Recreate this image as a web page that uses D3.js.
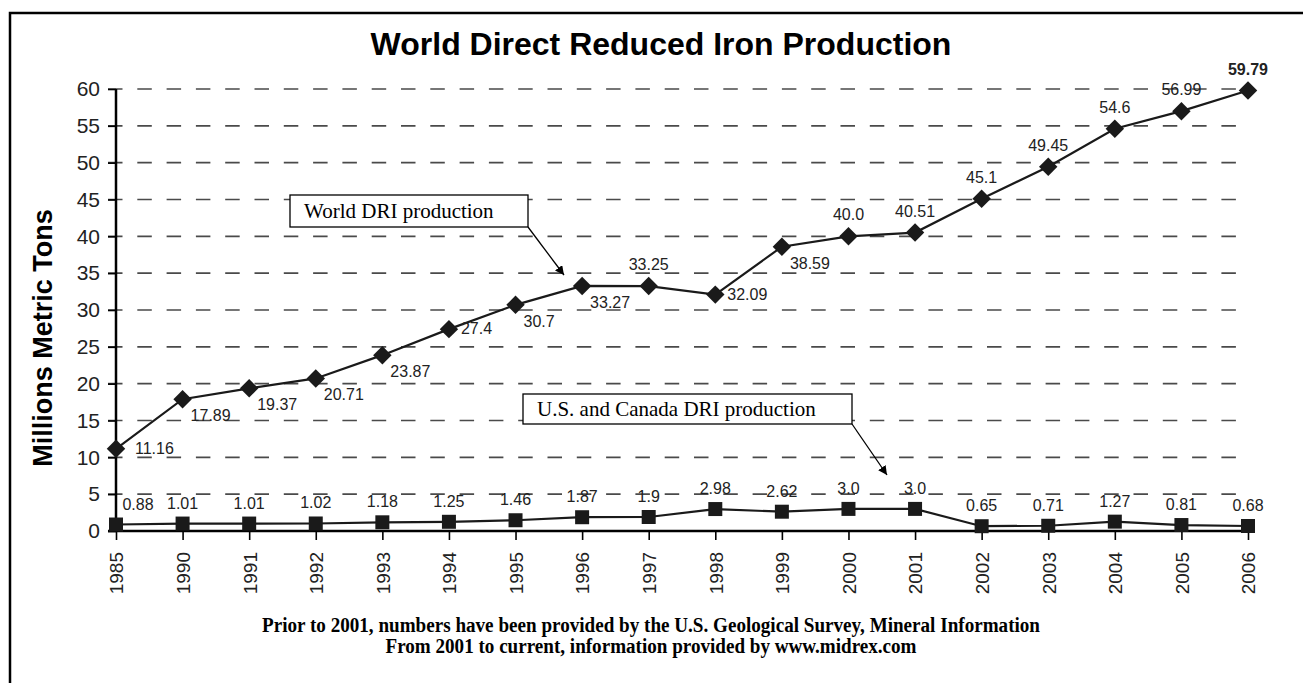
<!DOCTYPE html>
<html>
<head>
<meta charset="utf-8">
<script src="https://cdn.jsdelivr.net/npm/d3@7"></script>
<style>
  body { margin: 0; background: #fff; }
  svg { display: block; font-family: Arial, "Liberation Sans", sans-serif; }
</style>
</head>
<body>
<script>
// World Direct Reduced Iron Production, 1985-2006

const years = ["1985", "1990", "1991", "1992", "1993", "1994", "1995", "1996", "1997",
  "1998", "1999", "2000", "2001", "2002", "2003", "2004", "2005", "2006"];
const world = [11.16, 17.89, 19.37, 20.71, 23.87, 27.4, 30.7, 33.27, 33.25,
  32.09, 38.59, 40.0, 40.51, 45.1, 49.45, 54.6, 56.99, 59.79];
const usCanada = [0.88, 1.01, 1.01, 1.02, 1.18, 1.25, 1.46, 1.87, 1.9,
  2.98, 2.62, 3.0, 3.0, 0.65, 0.71, 1.27, 0.81, 0.68];
const worldLabels = ["11.16", "17.89", "19.37", "20.71", "23.87", "27.4", "30.7", "33.27", "33.25",
  "32.09", "38.59", "40.0", "40.51", "45.1", "49.45", "54.6", "56.99", "59.79"];
const usLabels = ["0.88", "1.01", "1.01", "1.02", "1.18", "1.25", "1.46", "1.87", "1.9",
  "2.98", "2.62", "3.0", "3.0", "0.65", "0.71", "1.27", "0.81", "0.68"];
const yTicks = [0, 5, 10, 15, 20, 25, 30, 35, 40, 45, 50, 55, 60];
const notes = [
  "Prior to 2001, numbers have been provided by the U.S. Geological Survey, Mineral Information",
  "From 2001 to current, information provided by www.midrex.com"
];

const width = 1303, height = 683;
const ink = "#1a1a1a";
const serif = "'Liberation Serif', 'Times New Roman', serif";

// where the world labels sit relative to their marker
const rightOf = new Set(["1985", "1994", "1998"]);
const above = new Set(["1997", "2000", "2001", "2002", "2003", "2004", "2005", "2006"]);

const x = d3.scalePoint().domain(years).range([116, 1248]);
const y = d3.scaleLinear().domain([0, 60]).range([531, 89]);

const svg = d3.select("body").append("svg")
    .attr("width", width)
    .attr("height", height);

svg.append("rect")
    .attr("width", width).attr("height", height)
    .attr("fill", "#fff");

// outer frame (cut by the picture on the right and bottom)
svg.append("rect")
    .attr("x", 10).attr("y", 13)
    .attr("width", 1320).attr("height", 700)
    .attr("fill", "none")
    .attr("stroke", "#000")
    .attr("stroke-width", 2.5);

svg.append("text")
    .attr("x", 661).attr("y", 55)
    .attr("text-anchor", "middle")
    .attr("font-size", 32)
    .attr("font-weight", "bold")
    .text("World Direct Reduced Iron Production");

// dashed grid
svg.append("g")
  .selectAll("line")
  .data(yTicks.slice(1))
  .join("line")
    .attr("x1", 108).attr("x2", 1236)
    .attr("y1", d => y(d)).attr("y2", d => y(d))
    .attr("stroke", "#4a4a4a")
    .attr("stroke-width", 1.6)
    .attr("stroke-dasharray", "14.5,14.8");

// y axis
svg.append("g")
    .attr("transform", `translate(${x(years[0])},0)`)
    .call(d3.axisLeft(y).tickValues(yTicks).tickSize(8).tickPadding(8))
    .call(g => g.select(".domain").attr("stroke", "#000").attr("stroke-width", 2.5)
        .attr("d", `M0,${y(60)}V${y(0)}`))
    .call(g => g.selectAll(".tick line").attr("stroke", "#000").attr("stroke-width", 1.6))
    .call(g => g.selectAll(".tick text")
        .attr("font-size", 21)
        .attr("font-family", "Arial, 'Liberation Sans', sans-serif")
        .attr("fill", "#222"));

// x axis
svg.append("g")
    .attr("transform", `translate(0,${y(0)})`)
    .call(d3.axisBottom(x).tickSize(9).tickSizeOuter(0))
    .call(g => g.select(".domain").attr("stroke", "#000").attr("stroke-width", 2.5)
        .attr("d", "M108,0H1250"))
    .call(g => g.selectAll(".tick line").attr("stroke", "#000").attr("stroke-width", 1.6))
    .call(g => g.selectAll(".tick text")
        .attr("font-size", 19)
        .attr("font-family", "Arial, 'Liberation Sans', sans-serif")
        .attr("fill", "#222")
        .attr("transform", "rotate(-90)")
        .attr("text-anchor", "end")
        .attr("x", -21)
        .attr("y", 0)
        .attr("dy", "0.36em"));

svg.append("text")
    .attr("transform", "translate(43,338) rotate(-90)")
    .attr("text-anchor", "middle")
    .attr("dominant-baseline", "central")
    .attr("font-size", 27)
    .attr("font-weight", "bold")
    .text("Millions Metric Tons");

const line = d3.line()
    .x((d, i) => x(years[i]))
    .y(d => y(d));

// World DRI
svg.append("path")
    .attr("d", line(world))
    .attr("fill", "none")
    .attr("stroke", ink)
    .attr("stroke-width", 2.2);

svg.append("g")
  .selectAll("path")
  .data(world)
  .join("path")
    .attr("d", d3.symbol(d3.symbolSquare, 170))
    .attr("transform", (d, i) => `translate(${x(years[i])},${y(d)}) rotate(45)`)
    .attr("fill", ink);

svg.append("g")
    .attr("font-size", 16)
    .attr("fill", "#222")
  .selectAll("text")
  .data(world)
  .join("text")
    .attr("x", (d, i) => x(years[i]))
    .attr("y", d => y(d))
    .each(function(d, i) {
      const t = d3.select(this), yr = years[i];
      if (above.has(yr)) t.attr("text-anchor", "middle").attr("dy", -16);
      else if (rightOf.has(yr)) t.attr("dx", i === 0 ? 19 : 12).attr("dy", 5);
      else t.attr("dx", 8).attr("dy", 22);
    })
    .attr("font-weight", (d, i) => i === world.length - 1 ? "bold" : null)
    .text((d, i) => worldLabels[i]);

// U.S. and Canada DRI
svg.append("path")
    .attr("d", line(usCanada))
    .attr("fill", "none")
    .attr("stroke", ink)
    .attr("stroke-width", 2.2);

svg.append("g")
  .selectAll("path")
  .data(usCanada)
  .join("path")
    .attr("d", d3.symbol(d3.symbolSquare, 196))
    .attr("transform", (d, i) => `translate(${x(years[i])},${y(d)})`)
    .attr("fill", ink);

svg.append("g")
    .attr("font-size", 16)
    .attr("fill", "#222")
    .attr("text-anchor", "middle")
  .selectAll("text")
  .data(usCanada)
  .join("text")
    .attr("x", (d, i) => x(years[i]) + (i === 0 ? 22 : 0))
    .attr("y", d => y(d))
    .attr("dy", -15)
    .text((d, i) => usLabels[i]);

// callouts
svg.append("defs").append("marker")
    .attr("id", "arrow")
    .attr("viewBox", "0 0 10 10")
    .attr("refX", 10).attr("refY", 5)
    .attr("markerWidth", 9).attr("markerHeight", 9)
    .attr("markerUnits", "userSpaceOnUse")
    .attr("orient", "auto")
  .append("path")
    .attr("d", "M0,0L10,5L0,10Z")
    .attr("fill", "#000");

function callout(bx, by, bw, bh, label, tx, ty) {
  const g = svg.append("g");
  g.append("rect")
      .attr("x", bx).attr("y", by)
      .attr("width", bw).attr("height", bh)
      .attr("fill", "#fff")
      .attr("stroke", "#000")
      .attr("stroke-width", 1.3);
  g.append("text")
      .attr("x", bx + 14).attr("y", by + bh / 2)
      .attr("dy", "0.35em")
      .attr("font-family", serif)
      .attr("font-size", 21)
      .text(label);
  g.append("line")
      .attr("x1", bx + bw).attr("y1", by + bh)
      .attr("x2", tx).attr("y2", ty)
      .attr("stroke", "#000")
      .attr("stroke-width", 1.3)
      .attr("marker-end", "url(#arrow)");
}

callout(290, 195, 238, 32, "World DRI production", 564, 275);
callout(523, 394, 329, 30, "U.S. and Canada DRI production", 887, 475);

// source notes: a narrow bold serif, squeezed to the widths seen in the original
const noteWidths = [778, 531];
svg.append("g")
    .attr("font-family", serif)
    .attr("font-size", 20)
    .attr("font-weight", "bold")
    .attr("text-anchor", "middle")
  .selectAll("text")
  .data(notes)
  .join("text")
    .attr("x", 651)
    .attr("y", (d, i) => 632 + i * 21)
    .attr("textLength", (d, i) => noteWidths[i])
    .attr("lengthAdjust", "spacingAndGlyphs")
    .text(d => d);
</script>
</body>
</html>
